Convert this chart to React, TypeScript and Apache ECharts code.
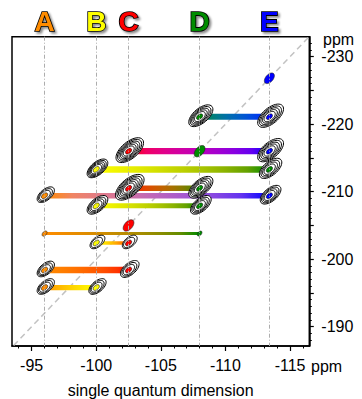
import React, { useEffect, useRef } from 'react';
import * as echarts from 'echarts';

// ---- data ----
const siteNames = ['A', 'B', 'C', 'D', 'E'];
const siteShifts = [-96.0, -100.0, -102.5, -108.0, -113.4];
const xMajorTicks = [-95, -100, -105, -110, -115];
const yLabelTicks = [-230, -220, -210, -200, -190];
const diagonalX = [-92, -118];
const diagonalY = [-184, -236];

// correlations (double-quantum rows)
const barFrom = ['D', 'C', 'B', 'C', 'A', 'B', 'A', 'B', 'A', 'A'];
const barTo = ['E', 'E', 'E', 'D', 'E', 'D', 'D', 'C', 'C', 'B'];
const barToColor = ['E', 'E', 'D', 'D', 'E', 'D', 'D', 'C', 'C', 'B'];
const barDQ = [-221.1, -216.0, -213.3, -210.5, -209.4, -207.9, -203.8, -202.4, -198.4, -195.8];
const barIntensity = [6, 6.2, 6.5, 5.5, 5.6, 5, 3, 3.5, 6.5, 5.3];

// peaks
const peakSite = ['E', 'D', 'E', 'C', 'E', 'D', 'B', 'E', 'C', 'D', 'A', 'E', 'B', 'D', 'C', 'A', 'D', 'B', 'C', 'A', 'C', 'A', 'B'];
const peakColor = ['E', 'D', 'E', 'C', 'E', 'D', 'B', 'D', 'C', 'D', 'A', 'E', 'B', 'D', 'C', 'A', 'D', 'B', 'C', 'A', 'C', 'A', 'B'];
const peakDQ = [-226.8, -221.1, -221.1, -216.0, -216.0, -216.0, -213.3, -213.3, -210.5, -210.5, -209.4, -209.4, -207.9, -207.9, -205.0, -203.8, -203.8, -202.4, -202.4, -198.4, -198.4, -195.8, -195.8];
const peakLevels = [0, 5, 5, 6, 5, 0, 5, 4, 6, 5, 3, 4, 4, 4, 0, 0, 0, 2, 2, 3, 3, 3, 3];
const peakIntensity = [3, 5, 5.5, 6, 5.5, 3.3, 4, 4.5, 6.3, 5, 3, 4, 4, 4, 3.3, 1, 0.9, 2.3, 2.3, 3, 3.4, 3, 3];

// ---- styles ----
const XMIN = -116.49;
const XMAX = -93.48;
const YMIN = -232.96;
const YMAX = -187.14;
const FONT = '"Liberation Sans", Arial, sans-serif';
const siteRGB: Record<string, number[]> = {
  A: [255, 140, 0],
  B: [255, 255, 0],
  C: [255, 0, 0],
  D: [0, 140, 0],
  E: [0, 0, 255],
};
const labelColor: Record<string, string> = {
  A: '#ff8c00',
  B: '#ffff00',
  C: '#ff0000',
  D: '#008c00',
  E: '#0000ff',
};

const shiftOf = (s: string) => siteShifts[siteNames.indexOf(s)];
const toLin = (c: number) => {
  const v = c / 255;
  return v <= 0.04045 ? v / 12.92 : Math.pow((v + 0.055) / 1.055, 2.4);
};
const toSrgb = (l: number) => {
  const c = l <= 0.0031308 ? 12.92 * l : 1.055 * Math.pow(l, 1 / 2.4) - 0.055;
  return Math.round(Math.max(0, Math.min(1, c)) * 255);
};
const mix = (a: number[], b: number[], t: number) =>
  'rgb(' + [0, 1, 2].map((k) => toSrgb(toLin(a[k]) * (1 - t) + toLin(b[k]) * t)).join(',') + ')';

const ellipsePts = (cx: number, cy: number, a: number, b: number, ang: number) => {
  const pts: number[][] = [];
  const ca = Math.cos(ang);
  const sa = Math.sin(ang);
  for (let t = 0; t < 40; t++) {
    const th = (t / 40) * Math.PI * 2;
    const ex = a * Math.cos(th);
    const ey = b * Math.sin(th);
    pts.push([cx + ex * ca + ey * sa, cy - ex * sa + ey * ca]);
  }
  return pts;
};

export default function App() {
  const ref = useRef<HTMLDivElement>(null);
  useEffect(() => {
    if (!ref.current) return;
    const chart = echarts.init(ref.current, null, { renderer: 'svg' });

    const minorX: number[] = [];
    for (let v = -94; v >= -116; v--) minorX.push(v);
    const majorY: number[] = [];
    for (let v = -230; v <= -190; v += 5) majorY.push(v);
    const minorY: number[] = [];
    for (let v = -232; v <= -188; v++) minorY.push(v);

    const ANG = (40 * Math.PI) / 180;

    const option: any = {
      animation: false,
      backgroundColor: '#fff',
      grid: {
        left: 12,
        top: 36.7,
        right: 52.7,
        bottom: 53,
        show: true,
        borderColor: '#000',
        borderWidth: 1.5,
        outerBoundsMode: 'none',
      },
      xAxis: [
        {
          type: 'value',
          inverse: true,
          min: XMIN,
          max: XMAX,
          position: 'bottom',
          axisLine: { show: true, onZero: false, lineStyle: { color: '#000', width: 1.5 } },
          axisTick: { show: true, customValues: xMajorTicks, length: 5, lineStyle: { color: '#000', width: 1.2 } },
          axisLabel: { customValues: xMajorTicks, fontSize: 16, color: '#000', fontFamily: FONT, margin: 11 },
          splitLine: { show: false },
          name: 'single quantum dimension',
          nameLocation: 'middle',
          nameGap: 36,
          nameTextStyle: { fontSize: 16, color: '#000', fontFamily: FONT },
        },
        {
          type: 'value',
          inverse: true,
          min: XMIN,
          max: XMAX,
          position: 'bottom',
          axisLine: { show: false, onZero: false },
          axisTick: { show: true, customValues: minorX, length: 2.5, lineStyle: { color: '#000', width: 1 } },
          axisLabel: { show: false },
          splitLine: { show: false },
        },
        {
          type: 'value',
          inverse: true,
          min: XMIN,
          max: XMAX,
          position: 'top',
          axisLine: { show: false, onZero: false },
          axisTick: { show: false },
          splitLine: { show: false },
          axisLabel: {
            customValues: siteShifts,
            margin: 1,
            formatter: (v: number) => {
              let best = 0;
              siteShifts.forEach((s, i) => {
                if (Math.abs(s - v) < Math.abs(siteShifts[best] - v)) best = i;
              });
              return siteNames[best];
            },
            color: (v: any) => {
              const n = Number(v);
              let best = 0;
              siteShifts.forEach((s, i) => {
                if (Math.abs(s - n) < Math.abs(siteShifts[best] - n)) best = i;
              });
              return labelColor[siteNames[best]];
            },
            fontSize: 28,
            fontWeight: 'bold',
            fontFamily: '"Liberation Sans Narrow", "Liberation Sans", Arial, sans-serif',
            textBorderColor: '#000',
            textBorderWidth: 1.6,
            textShadowColor: 'rgba(0,0,0,0.45)',
            textShadowBlur: 2,
            textShadowOffsetX: 2,
            textShadowOffsetY: 2,
          },
        },
      ],
      yAxis: [
        {
          type: 'value',
          inverse: true,
          min: YMIN,
          max: YMAX,
          position: 'right',
          axisLine: { show: true, onZero: false, lineStyle: { color: '#000', width: 1.5 } },
          axisTick: { show: true, customValues: majorY, length: 4.5, lineStyle: { color: '#000', width: 1.2 } },
          axisLabel: {
            customValues: yLabelTicks,
            fontSize: 16,
            color: '#000',
            fontFamily: FONT,
            margin: 12,
            padding: [8, 0, 0, 0],
          },
          splitLine: { show: false },
        },
        {
          type: 'value',
          inverse: true,
          min: YMIN,
          max: YMAX,
          position: 'right',
          axisLine: { show: false, onZero: false },
          axisTick: { show: true, customValues: minorY, length: 2.5, lineStyle: { color: '#000', width: 1 } },
          axisLabel: { show: false },
          splitLine: { show: false },
        },
      ],
      graphic: [
        {
          type: 'text',
          x: 323,
          y: 39,
          style: { text: 'ppm', fontSize: 16, fontFamily: FONT, fill: '#000', verticalAlign: 'middle', align: 'left' },
        },
        {
          type: 'text',
          x: 311,
          y: 366,
          style: { text: 'ppm', fontSize: 16, fontFamily: FONT, fill: '#000', verticalAlign: 'middle', align: 'left' },
        },
      ],
      series: [
        {
          type: 'line',
          xAxisIndex: 0,
          yAxisIndex: 0,
          data: diagonalX.map((x, i) => [x, diagonalY[i]]),
          showSymbol: false,
          silent: true,
          z: 1,
          lineStyle: { color: '#c2c2c2', width: 1.5, type: [6, 4] },
          markLine: {
            silent: true,
            symbol: ['none', 'none'],
            label: { show: false },
            lineStyle: { color: '#adadad', width: 1, type: [4, 2, 1, 2] },
            data: siteShifts.map((x) => ({ xAxis: x })),
          },
        },
        {
          type: 'custom',
          xAxisIndex: 0,
          yAxisIndex: 0,
          z: 2,
          silent: true,
          encode: { x: [0, 1], y: 2 },
          data: barDQ.map((dq, i) => [shiftOf(barFrom[i]), shiftOf(barTo[i]), dq, barIntensity[i], i]),
          renderItem: (params: any, api: any) => {
            const i = api.value(4);
            const p1 = api.coord([api.value(0), api.value(2)]);
            const p2 = api.coord([api.value(1), api.value(2)]);
            const h = api.value(3);
            const c1 = siteRGB[barFrom[i]];
            const c2 = siteRGB[barToColor[i]];
            const stops = [];
            for (let k = 0; k <= 8; k++) {
              const t = k / 8;
              stops.push({ offset: t, color: mix(c1, c2, t) });
            }
            const x0 = Math.min(p1[0], p2[0]);
            return {
              type: 'rect',
              shape: { x: x0, y: p1[1] - h / 2, width: Math.abs(p2[0] - p1[0]), height: h },
              style: { fill: new echarts.graphic.LinearGradient(0, 0, 1, 0, stops) },
            };
          },
        },
        {
          type: 'custom',
          xAxisIndex: 0,
          yAxisIndex: 0,
          z: 3,
          silent: true,
          encode: { x: 0, y: 1 },
          data: peakDQ.map((dq, i) => [shiftOf(peakSite[i]), dq, peakLevels[i], peakIntensity[i], i]),
          renderItem: (params: any, api: any) => {
            const i = api.value(4);
            const c = api.coord([api.value(0), api.value(1)]);
            const L = api.value(2);
            const I = api.value(3);
            const col = mix(siteRGB[peakColor[i]], siteRGB[peakColor[i]], 0);
            const children: any[] = [];
            if (L > 0) {
              const aOut = 4 + 2.1 * I;
              const bOut = 2.6 + 0.95 * I;
              const ac = 4.4;
              const bc = 2.8;
              for (let k = L; k >= 1; k--) {
                const f = k / L;
                const a = ac + (aOut - ac) * f;
                const b = bc + (bOut - bc) * f;
                const off = 1.6 * f;
                children.push({
                  type: 'polygon',
                  shape: { points: ellipsePts(c[0] + off * Math.cos(ANG), c[1] - off * Math.sin(ANG), a, b, ANG) },
                  style: { fill: '#fff', stroke: '#000', lineWidth: 1 },
                });
              }
              children.push({
                type: 'polygon',
                shape: { points: ellipsePts(c[0], c[1], ac - 0.8, bc - 0.6, ANG) },
                style: { fill: col, stroke: '#000', lineWidth: 0.6 },
              });
            } else {
              children.push({
                type: 'polygon',
                shape: { points: ellipsePts(c[0], c[1], 1.5 + 1.6 * I, 1 + 0.9 * I, ANG + 0.15) },
                style: { fill: col, stroke: '#222', lineWidth: 0.6 },
              });
            }
            return { type: 'group', children };
          },
        },
      ],
    };
    chart.setOption(option);
    return () => chart.dispose();
  }, []);
  return <div ref={ref} style={{ position: 'fixed', left: 0, top: 0, width: 362, height: 399 }} />;
}
